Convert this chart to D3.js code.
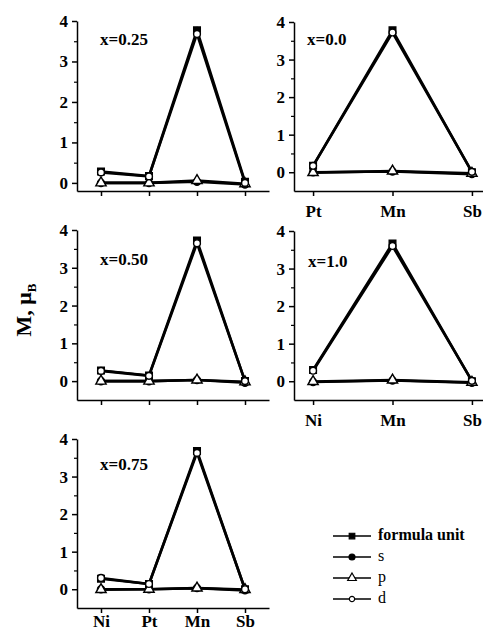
<!DOCTYPE html>
<html lang="en">
<head>
    <meta charset="UTF-8">
    <title>Magnetic moments by site</title>
    <script src="https://d3js.org/d3.v7.min.js"></script>
    <style>
        body { margin: 0; background: #fff; }
        svg { font-family: "Liberation Serif", "Times New Roman", serif; font-weight: bold; }
        .axis path, .axis line { stroke: #000; stroke-width: 1.5; }
        .axis text { font-family: "Liberation Serif", "Times New Roman", serif; font-size: 17px; font-weight: bold; fill: #000; }
        .minor line { stroke-width: 1.2; }
        .series { fill: none; stroke: #000; stroke-width: 2.6; }
    </style>
</head>
<body>
    <svg width="483" height="632"></svg>
    <script>
        // sites along the x axis
        const sites4 = ["Ni", "Pt", "Mn", "Sb"];
        const sitesPt = ["Pt", "Mn", "Sb"];
        const sitesNi = ["Ni", "Mn", "Sb"];
        const seriesNames = ["formula unit", "s", "p", "d"];
        const panelLabels = ["x=0.25", "x=0.0", "x=0.50", "x=1.0", "x=0.75"];
        const majorTicks = [0, 1, 2, 3, 4];
        const minorTicks = [0.5, 1.5, 2.5, 3.5];

        // moments (mu_B)
        const total025 = [0.28, 0.17, 3.77, 0.03];
        const s025 = [0.0, 0.0, 0.03, -0.04];
        const p025 = [0.0, 0.0, 0.06, -0.02];
        const d025 = [0.26, 0.16, 3.68, 0.0];

        const total00 = [0.17, 3.78, 0.0];
        const s00 = [0.0, 0.02, -0.05];
        const p00 = [-0.01, 0.03, -0.03];
        const d00 = [0.17, 3.72, 0.01];

        const total050 = [0.28, 0.15, 3.72, 0.0];
        const s050 = [0.0, 0.0, 0.03, -0.04];
        const p050 = [0.0, 0.0, 0.03, -0.02];
        const d050 = [0.27, 0.14, 3.65, 0.0];

        const total10 = [0.3, 3.67, 0.0];
        const s10 = [-0.02, 0.02, -0.04];
        const p10 = [-0.01, 0.03, -0.03];
        const d10 = [0.28, 3.6, 0.01];

        const total075 = [0.28, 0.14, 3.68, 0.0];
        const s075 = [0.0, 0.0, 0.03, -0.03];
        const p075 = [-0.01, 0.0, 0.03, -0.01];
        const d075 = [0.3, 0.14, 3.63, 0.0];

        const panels = [
            { sites: sites4, vals: [total025, s025, p025, d025], label: panelLabels[0],
              x0: 77, x1: 269, pad: 0.5, top: 21, bottom: 191, ymin: -0.2, lx: 100, ly: 45, xlabels: 0 },
            { sites: sitesPt, vals: [total00, s00, p00, d00], label: panelLabels[1],
              x0: 294, x1: 491, pad: 0.24, top: 22, bottom: 191, ymin: -0.5, lx: 307, ly: 45, xlabels: 9 },
            { sites: sites4, vals: [total050, s050, p050, d050], label: panelLabels[2],
              x0: 77, x1: 269, pad: 0.5, top: 230, bottom: 400, ymin: -0.5, lx: 100, ly: 265, xlabels: 0 },
            { sites: sitesNi, vals: [total10, s10, p10, d10], label: panelLabels[3],
              x0: 294, x1: 491, pad: 0.24, top: 231, bottom: 400, ymin: -0.5, lx: 308, ly: 267, xlabels: 9 },
            { sites: sites4, vals: [total075, s075, p075, d075], label: panelLabels[4],
              x0: 77, x1: 269, pad: 0.5, top: 439, bottom: 608, ymin: -0.5, lx: 100, ly: 470, xlabels: 2 }
        ];

        const svg = d3.select("svg");

        const symbols = [
            { type: d3.symbolSquare, size: 44, fill: "#000" },
            { type: d3.symbolCircle, size: 40, fill: "#000" },
            { type: d3.symbolTriangle, size: 46, fill: "#fff" },
            { type: d3.symbolCircle, size: 36, fill: "#fff" }
        ];

        panels.forEach(p => {
            const x = d3.scalePoint().domain(p.sites).range([p.x0, p.x1]).padding(p.pad);
            const y = d3.scaleLinear().domain([p.ymin, 4]).range([p.bottom, p.top]);
            const g = svg.append("g");

            g.append("g")
             .attr("class", "axis")
             .attr("transform", `translate(${p.x0},0)`)
             .call(d3.axisLeft(y).tickValues(majorTicks).tickFormat(d3.format("d")).tickSize(5).tickSizeOuter(0).tickPadding(4));

            g.append("g")
             .attr("class", "axis minor")
             .attr("transform", `translate(${p.x0},0)`)
             .call(d3.axisLeft(y).tickValues(minorTicks).tickFormat("").tickSize(3).tickSizeOuter(0))
             .select(".domain").remove();

            const xa = g.append("g")
             .attr("class", "axis")
             .attr("transform", `translate(0,${p.bottom})`)
             .call(d3.axisBottom(x).tickSize(5).tickSizeOuter(0).tickPadding(p.xlabels || 9));
            if (!p.xlabels) xa.selectAll("text").remove();

            const line = d3.line().x((d, i) => x(p.sites[i])).y(d => y(d));

            p.vals.forEach(v => {
                g.append("path").attr("class", "series").attr("d", line(v));
            });

            p.vals.forEach((v, k) => {
                g.selectAll(null)
                 .data(v)
                 .enter().append("path")
                 .attr("d", d3.symbol().type(symbols[k].type).size(symbols[k].size))
                 .attr("transform", (d, i) => `translate(${x(p.sites[i])},${y(d)})`)
                 .attr("fill", symbols[k].fill)
                 .attr("stroke", "#000")
                 .attr("stroke-width", 1.4);
            });

            g.append("text")
             .attr("x", p.lx)
             .attr("y", p.ly)
             .attr("font-size", 17)
             .text(p.label);
        });

        // y title
        const title = svg.append("text")
         .attr("transform", "translate(31,310) rotate(-90)")
         .attr("text-anchor", "middle")
         .attr("font-size", 22);
        title.append("tspan").text("M, \u03bc");
        title.append("tspan").attr("font-size", 13).attr("dy", 5).text("B");

        // legend
        const legend = svg.append("g");
        const rowsY = [536, 557, 578, 599];
        seriesNames.forEach((name, k) => {
            const ry = rowsY[k];
            legend.append("line")
             .attr("x1", 333).attr("x2", 371).attr("y1", ry).attr("y2", ry)
             .attr("stroke", "#000").attr("stroke-width", 1.6);
            legend.append("path")
             .attr("d", d3.symbol().type(symbols[k].type).size(k === 3 ? 22 : symbols[k].size * 0.7))
             .attr("transform", `translate(352,${ry})`)
             .attr("fill", symbols[k].fill)
             .attr("stroke", "#000")
             .attr("stroke-width", 1.2);
            legend.append("text")
             .attr("x", 378)
             .attr("y", ry + 4)
             .attr("font-size", 16)
             .attr("font-weight", k === 0 ? "bold" : "normal")
             .text(name);
        });
    </script>
</body>
</html>
